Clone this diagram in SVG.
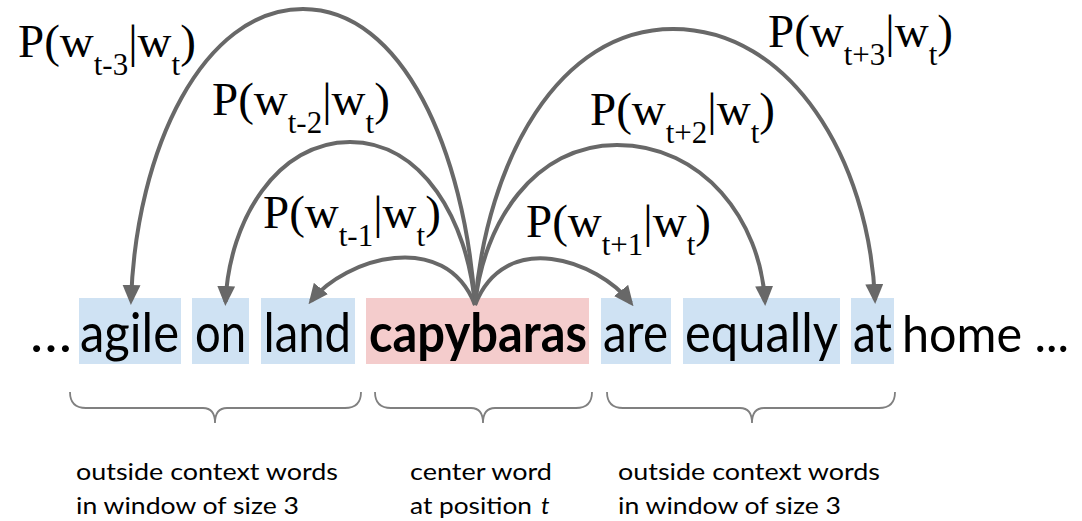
<svg xmlns="http://www.w3.org/2000/svg" width="1082" height="521" viewBox="0 0 1082 521">
<defs>
<style>
.ctx{fill:#cfe2f3}
.ctr{fill:#f4cccc}
.w{font-family:Lato,"Open Sans","Liberation Sans",sans-serif;font-size:54px;fill:#000}
.b{font-weight:bold}
.lbl{font-family:"Liberation Serif","Times New Roman",serif;font-size:47px;fill:#000}
.sub{font-size:31px}
.arc{fill:none;stroke:#686868;stroke-width:4;marker-end:url(#ah)}
.brace{fill:none;stroke:#808080;stroke-width:1.8}
.cap{font-family:Lato,"Open Sans","Liberation Sans",sans-serif;font-size:24px;fill:#000}
</style>
<marker id="ah" markerUnits="userSpaceOnUse" markerWidth="20" markerHeight="18" refX="16" refY="9" orient="auto">
<path d="M0,0 L20,9 L0,18 z" fill="#686868"/>
</marker>
</defs>
<rect width="1082" height="521" fill="#fff"/>

<g id="word-ellipsis"><text class="w" x="30" y="352" textLength="42" lengthAdjust="spacingAndGlyphs">…</text></g>
<g id="word-agile"><rect class="ctx" x="79" y="298" width="102" height="66"/><text class="w" x="80" y="352" textLength="99" lengthAdjust="spacingAndGlyphs">agile</text></g>
<g id="word-on"><rect class="ctx" x="192" y="298" width="57" height="66"/><text class="w" x="195" y="352" textLength="51" lengthAdjust="spacingAndGlyphs">on</text></g>
<g id="word-land"><rect class="ctx" x="261" y="298" width="94" height="66"/><text class="w" x="263.5" y="352" textLength="87.5" lengthAdjust="spacingAndGlyphs">land</text></g>
<g id="word-capybaras"><rect class="ctr" x="366" y="298" width="223" height="66"/><text class="w b" x="369" y="352" textLength="218" lengthAdjust="spacingAndGlyphs">capybaras</text></g>
<g id="word-are"><rect class="ctx" x="601" y="298" width="70" height="66"/><text class="w" x="603" y="352" textLength="65" lengthAdjust="spacingAndGlyphs">are</text></g>
<g id="word-equally"><rect class="ctx" x="683" y="298" width="157" height="66"/><text class="w" x="685" y="352" textLength="153" lengthAdjust="spacingAndGlyphs">equally</text></g>
<g id="word-at"><rect class="ctx" x="851" y="298" width="43" height="66"/><text class="w" x="853" y="352" textLength="39" lengthAdjust="spacingAndGlyphs">at</text></g>
<g id="word-home"><text class="w" x="902" y="352" font-size="50" style="font-size:50px" textLength="167" lengthAdjust="spacingAndGlyphs">home ...</text></g>

<g id="connectors">
<path id="c-t-3" class="arc" d="M475,305 C464.7,151 402.8,9 303,9 C203.2,9 136,149 131,301"/>
<path id="c-t-2" class="arc" d="M475,305 C467.5,220 422.5,142 350,142 C277.8,142 229.2,219 225.5,302"/>
<path id="c-t-1" class="arc" d="M475,305 C445,228 345,258 311,301"/>
<path id="c-t+1" class="arc" d="M475,305 C505,228 597,260 631,303"/>
<path id="c-t+2" class="arc" d="M475,305 C483.5,222 534.6,145 617,145 C702.8,145 760.6,220 765,302"/>
<path id="c-t+3" class="arc" d="M475,305 C486.9,161 558.2,29 673,29 C790.2,29 869,159 875,300"/>
</g>

<g id="label-t-3"><text class="lbl" x="18" y="57">P(w<tspan class="sub" dy="18">t-3</tspan><tspan dy="-18">|w</tspan><tspan class="sub" dy="18">t</tspan><tspan dy="-18">)</tspan></text></g>
<g id="label-t-2"><text class="lbl" x="212" y="115">P(w<tspan class="sub" dy="18">t-2</tspan><tspan dy="-18">|w</tspan><tspan class="sub" dy="18">t</tspan><tspan dy="-18">)</tspan></text></g>
<g id="label-t-1"><text class="lbl" x="263" y="228">P(w<tspan class="sub" dy="18">t-1</tspan><tspan dy="-18">|w</tspan><tspan class="sub" dy="18">t</tspan><tspan dy="-18">)</tspan></text></g>
<g id="label-t+3"><text class="lbl" x="768" y="47">P(w<tspan class="sub" dy="18">t+3</tspan><tspan dy="-18">|w</tspan><tspan class="sub" dy="18">t</tspan><tspan dy="-18">)</tspan></text></g>
<g id="label-t+2"><text class="lbl" x="590" y="125">P(w<tspan class="sub" dy="18">t+2</tspan><tspan dy="-18">|w</tspan><tspan class="sub" dy="18">t</tspan><tspan dy="-18">)</tspan></text></g>
<g id="label-t+1"><text class="lbl" x="526" y="237">P(w<tspan class="sub" dy="18">t+1</tspan><tspan dy="-18">|w</tspan><tspan class="sub" dy="18">t</tspan><tspan dy="-18">)</tspan></text></g>

<g id="brace-left"><path class="brace" d="M70,392 Q70,408 86,408 L203,408 Q215,408 215,423 Q215,408 227,408 L345,408 Q361,408 361,392"/></g>
<g id="brace-center"><path class="brace" d="M375,392 Q375,408 391,408 L471,408 Q483,408 483,423 Q483,408 495,408 L576,408 Q592,408 592,392"/></g>
<g id="brace-right"><path class="brace" d="M607,392 Q607,408 623,408 L740,408 Q752,408 752,423 Q752,408 764,408 L879,408 Q895,408 895,392"/></g>

<g id="caption-left"><text class="cap" x="76" y="480" textLength="262" lengthAdjust="spacingAndGlyphs">outside context words</text><text class="cap" x="76" y="514" textLength="223" lengthAdjust="spacingAndGlyphs">in window of size 3</text></g>
<g id="caption-center"><text class="cap" x="410" y="480" textLength="142" lengthAdjust="spacingAndGlyphs">center word</text><text class="cap" x="410" y="514" textLength="122" lengthAdjust="spacingAndGlyphs">at position</text><text class="cap" x="541" y="514" font-family="'Liberation Serif',serif" font-style="italic">t</text></g>
<g id="caption-right"><text class="cap" x="618" y="480" textLength="262" lengthAdjust="spacingAndGlyphs">outside context words</text><text class="cap" x="618" y="514" textLength="223" lengthAdjust="spacingAndGlyphs">in window of size 3</text></g>
</svg>
